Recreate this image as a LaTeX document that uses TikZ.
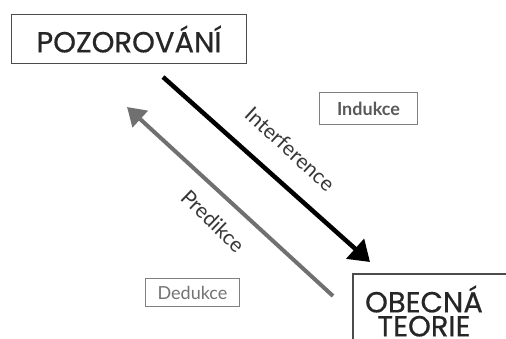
\documentclass[tikz,border=0pt]{standalone}
\usepackage{fontspec}
\setmainfont{Poppins}
\newfontfamily\titlefont{Poppins}[FakeBold=0.5]
\newfontfamily\lab{Lato}
\usetikzlibrary{arrows.meta}
\definecolor{arrgray}{RGB}{112,112,112}
\definecolor{txtgray}{RGB}{55,55,55}
\begin{document}
\begin{tikzpicture}[x=1pt,y=-1pt,
  bigbox/.style={draw=black!70,line width=1.6pt,fill=white,inner sep=0pt,text=black!85},
  smallbox/.style={draw=black!50,line width=1.4pt,inner sep=0pt},
  arrlab/.style={font=\lab\fontsize{21}{21}\selectfont,text=txtgray,inner sep=1pt}]
\useasboundingbox (0,0) rectangle (506,338);
\node[bigbox,minimum width=235pt,minimum height=49pt,font=\titlefont\fontsize{29}{29}\selectfont] (poz) at (129,39) {POZOROVÁNÍ};
\node[smallbox,minimum width=98pt,minimum height=32pt,text=black!65,font=\lab\bfseries\fontsize{18}{18}\selectfont] (ind) at (368.5,108.5) {Indukce};
\node[smallbox,minimum width=94pt,minimum height=28pt,text=black!55,font=\lab\fontsize{18}{18}\selectfont] (ded) at (192.5,292.5) {Dedukce};
\begin{scope}
\clip (0,0) rectangle (506,338);
\node[bigbox,minimum width=170pt,minimum height=80pt,anchor=north west] (teo) at (352,273) {};
\end{scope}
\node[font=\titlefont\fontsize{29}{24}\selectfont,align=center,text=black!85] (teotxt) at (424,311) {OBECNÁ\\TEORIE};
\coordinate (a1) at (163,77);
\coordinate (a2) at (370,262);
\coordinate (b1) at (333,296);
\coordinate (b2) at (127,107);
\draw[line width=4.5pt,-{Triangle[length=20pt,width=26pt]}] (a1) -- (a2);
\draw[line width=4pt,arrgray,-{Triangle[length=18pt,width=22pt]}] (b1) -- (b2);
\node[arrlab,rotate=-42.5] (intl) at (290,149) {Interference};
\node[arrlab,rotate=-44] (pred) at (213,221) {Predikce};
\end{tikzpicture}
\end{document}
